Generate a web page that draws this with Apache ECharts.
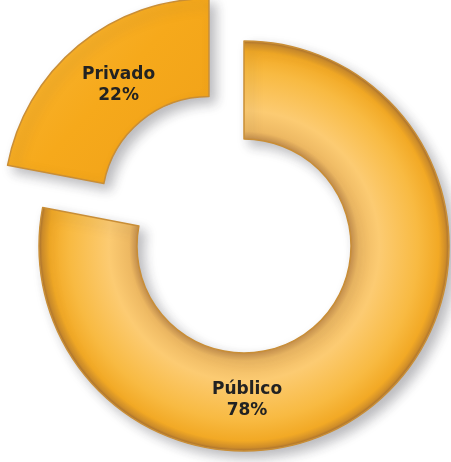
<!DOCTYPE html>
<html>
<head>
<meta charset="utf-8">
<script src="https://cdn.jsdelivr.net/npm/echarts@6/dist/echarts.min.js"></script>
<style>
html,body{margin:0;padding:0;background:#fff;}
#c{width:451px;height:462px;}
</style>
</head>
<body>
<div id="c"></div>
<script>
var categories = ['Público', 'Privado'];
var values = [78, 22];
var labels = ['Público\n78%', 'Privado\n22%'];

var W = 451, H = 462;
var CX = 244, CY = 246, R_IN = 107, R_OUT = 205;

var chart = echarts.init(document.getElementById('c'), null, {renderer: 'canvas'});

var publicoColor = {
  type: 'radial', x: CX, y: CY, r: R_OUT, global: true,
  colorStops: [
    {offset: 0.0, color: '#C48E4C'},
    {offset: 0.52, color: '#C48E4C'},
    {offset: 0.56, color: '#EDB862'},
    {offset: 0.66, color: '#FCCB72'},
    {offset: 0.85, color: '#F8BA42'},
    {offset: 0.95, color: '#F2A925'},
    {offset: 0.985, color: '#D08E2A'},
    {offset: 1.0, color: '#A87030'}
  ]
};
var privadoColor = {
  type: 'linear', x: 0, y: 0, x2: 1, y2: 1,
  colorStops: [
    {offset: 0, color: '#F9B93A'},
    {offset: 0.5, color: '#F6A91B'},
    {offset: 1, color: '#EFA018'}
  ]
};

var data = categories.map(function (c, i) {
  return {
    name: c,
    value: values[i],
    selected: i === 1,
    label: {formatter: labels[i]},
    itemStyle: {color: i === 0 ? publicoColor : privadoColor}
  };
});

chart.setOption({
  animation: false,
  series: [{
    type: 'pie',
    center: [CX, CY],
    radius: [R_IN, R_OUT],
    startAngle: 90,
    clockwise: true,
    selectedMode: 'single',
    selectedOffset: 55,
    avoidLabelOverlap: false,
    itemStyle: {
      borderColor: '#C98E36',
      borderWidth: 1.5,
      shadowBlur: 12,
      shadowColor: 'rgba(60,60,70,0.35)',
      shadowOffsetX: 6,
      shadowOffsetY: 6
    },
    label: {
      show: true,
      position: 'inside',
      color: '#222',
      fontFamily: 'DejaVu Sans',
      fontWeight: 'bold',
      fontSize: 17,
      lineHeight: 21,
      align: 'center'
    },
    labelLine: {show: false},
    emphasis: {disabled: true},
    labelLayout: function (p) {
      if (p.dataIndex === 0) {
        return {x: CX + 3, y: CY + (R_IN + R_OUT) / 2 - 2};
      }
      return {dx: 11, dy: 4};
    },
    data: data
  }]
});
</script>
</body>
</html>
